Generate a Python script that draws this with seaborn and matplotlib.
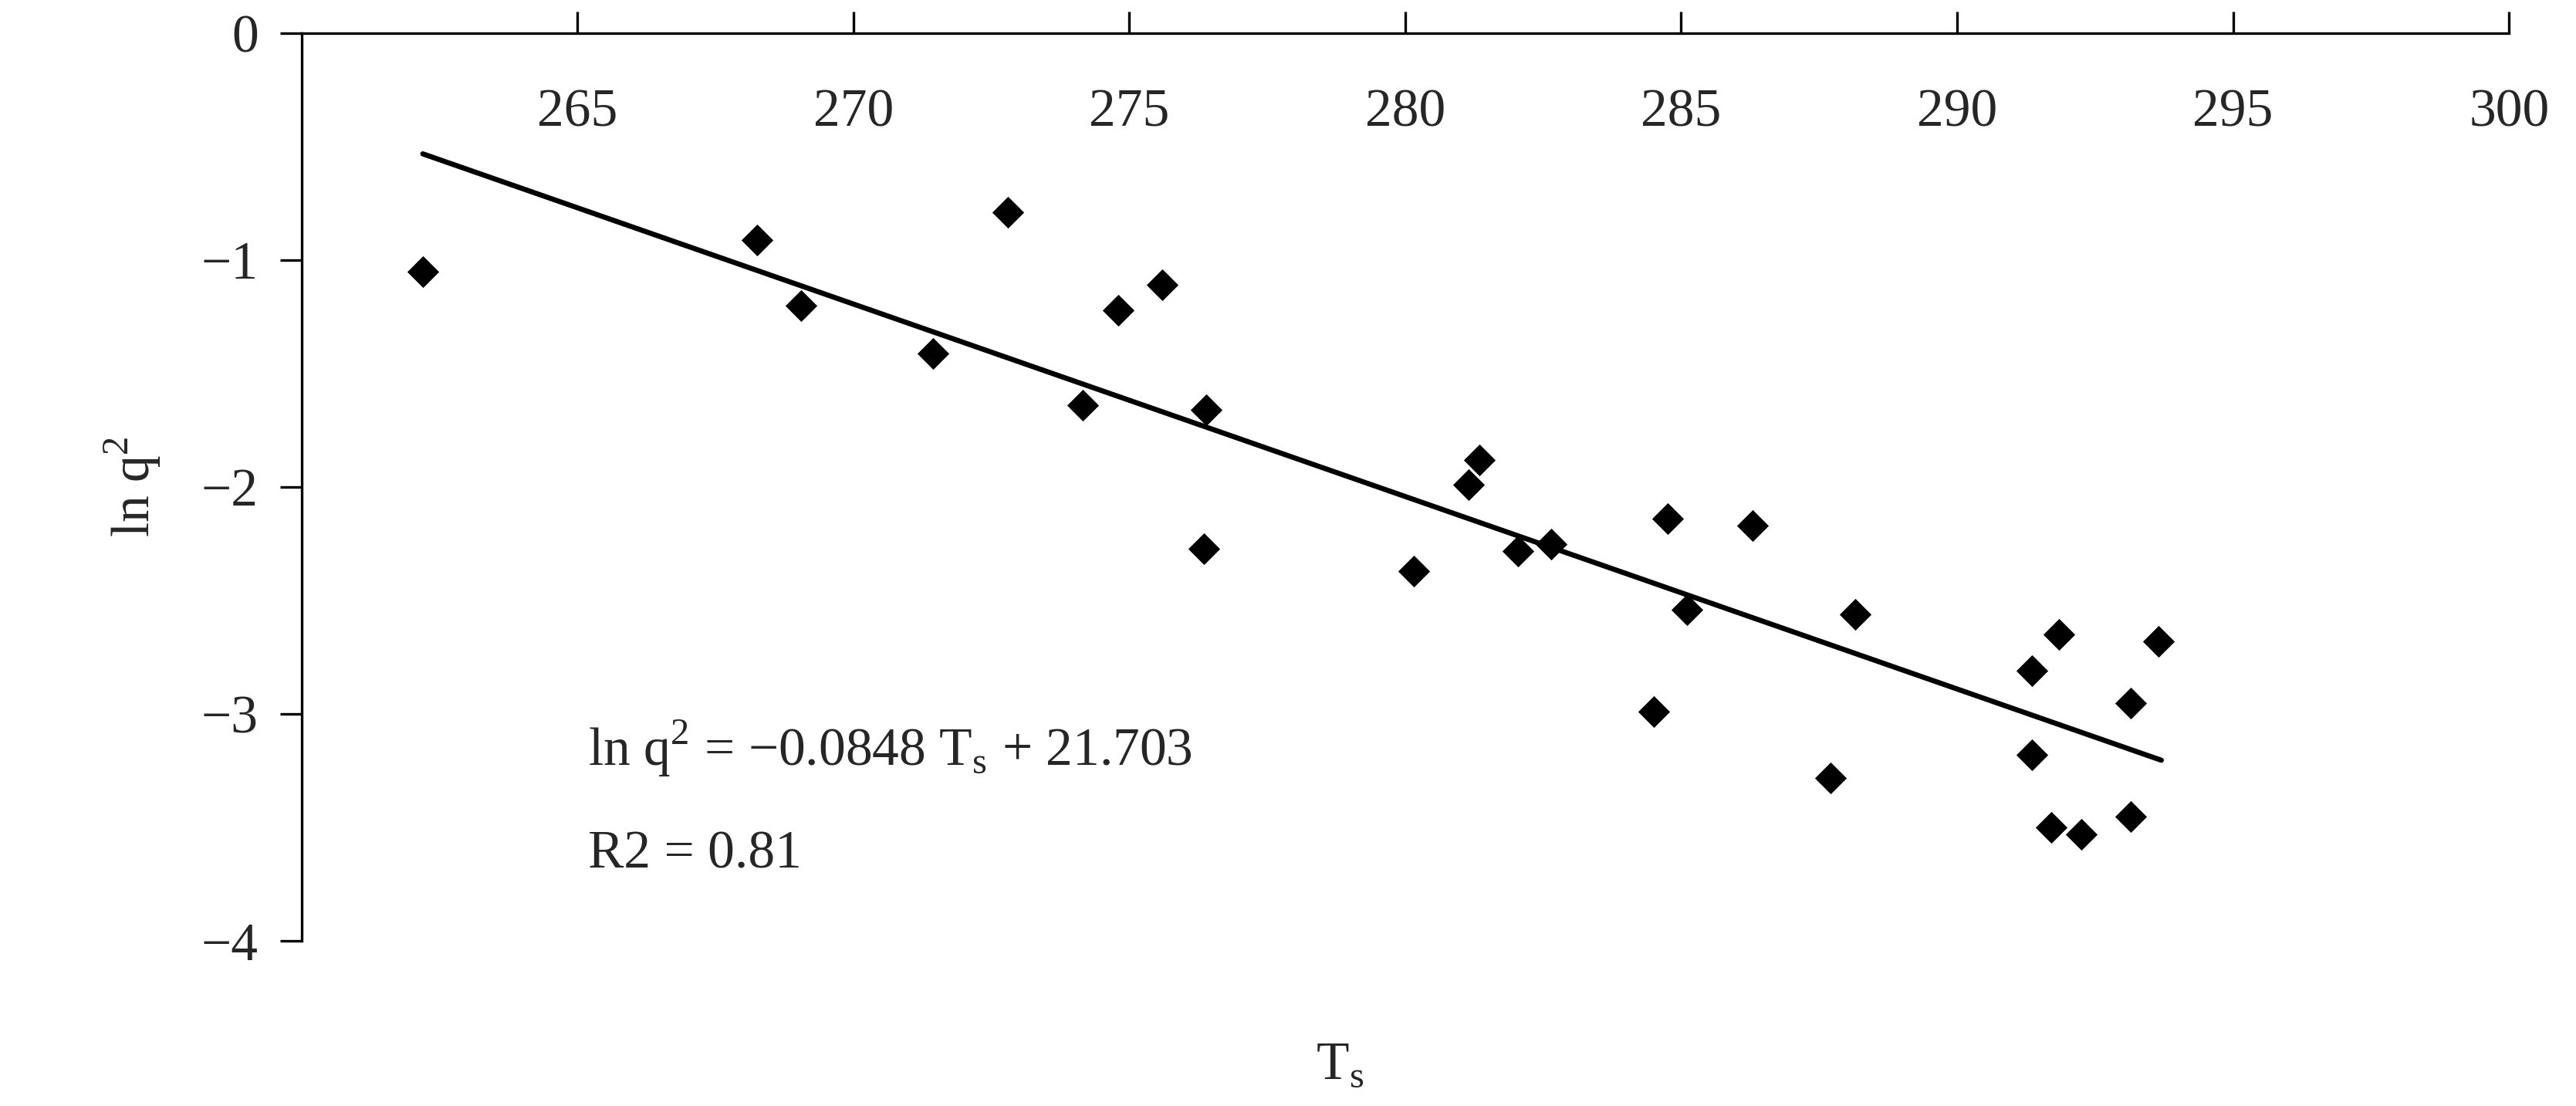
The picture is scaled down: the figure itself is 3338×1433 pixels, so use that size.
import matplotlib
matplotlib.use("Agg")
import matplotlib.pyplot as plt
import seaborn as sns
import numpy as np
import pandas as pd

ts = [262.2, 268.25, 269.05, 271.45, 272.8, 274.15, 274.8, 275.6, 276.4, 276.35,
      280.15, 281.15, 281.35, 282.05, 282.65, 284.5, 284.75, 285.1, 286.3, 288.15,
      287.7, 291.35, 291.35, 291.7, 291.85, 292.25, 293.15, 293.15, 293.65]
lnq2 = [-1.05, -0.91, -1.2, -1.41, -0.79, -1.64, -1.22, -1.11, -1.66, -2.27,
        -2.37, -1.99, -1.88, -2.28, -2.25, -2.99, -2.14, -2.54, -2.17, -2.56,
        -3.28, -2.81, -3.18, -3.5, -2.65, -3.53, -2.95, -3.45, -2.68]
slope, intercept = -0.0848, 21.703
fit_x = [262.2, 293.7]
xticks = [265, 270, 275, 280, 285, 290, 295, 300]
yticks = [0, -1, -2, -3, -4]

sns.set_theme(style="white")
plt.rcParams['font.family'] = ['Liberation Serif', 'DejaVu Serif']
plt.rcParams['mathtext.fontset'] = 'custom'
plt.rcParams['mathtext.rm'] = 'Liberation Serif'

fig = plt.figure(figsize=(16.69, 7.165), dpi=200)
ax = fig.add_axes([0.117, 0.149, 0.857, 0.821])
df = pd.DataFrame({"Ts": ts, "lnq2": lnq2})
sns.scatterplot(data=df, x="Ts", y="lnq2", marker="D", s=110, color="black",
                edgecolor="black", linewidth=0, ax=ax, zorder=3)
fx = np.array(fit_x)
sns.lineplot(x=fx, y=slope * fx + intercept, color="black", linewidth=2.4, ax=ax)

ax.set_xlim(260, 300)
ax.set_ylim(-4, 0)
ax.spines['top'].set_visible(False)
ax.spines['right'].set_visible(False)
ax.spines['bottom'].set_position(('data', 0))
for s in ['left', 'bottom']:
    ax.spines[s].set_color('black')
    ax.spines[s].set_linewidth(1.2)
ax.set_xticks(xticks)
ax.set_yticks(yticks)
ax.set_yticklabels(["0", "\u22121", "\u22122", "\u22123", "\u22124"])
ax.tick_params(axis='x', direction='in', length=10, width=1.2, pad=26,
               labelsize=25, bottom=True, color='black')
ax.tick_params(axis='y', direction='out', length=10, width=1.2, pad=10,
               labelsize=25, left=True, color='black')
ax.set_xlabel("")
ax.set_ylabel("ln q$^2$", fontsize=25, labelpad=18)
fig.text(0.52, 0.025, r"T$_\mathregular{s}$", fontsize=25, ha='center')
ax.text(265.2, -3.15, "ln q$^2$ = \u22120.0848 T$_\\mathregular{s}$ + 21.703",
        fontsize=25, va='center')
ax.text(265.2, -3.62, "R2 = 0.81", fontsize=25, va='center')
fig.savefig("out.png", dpi=200)
